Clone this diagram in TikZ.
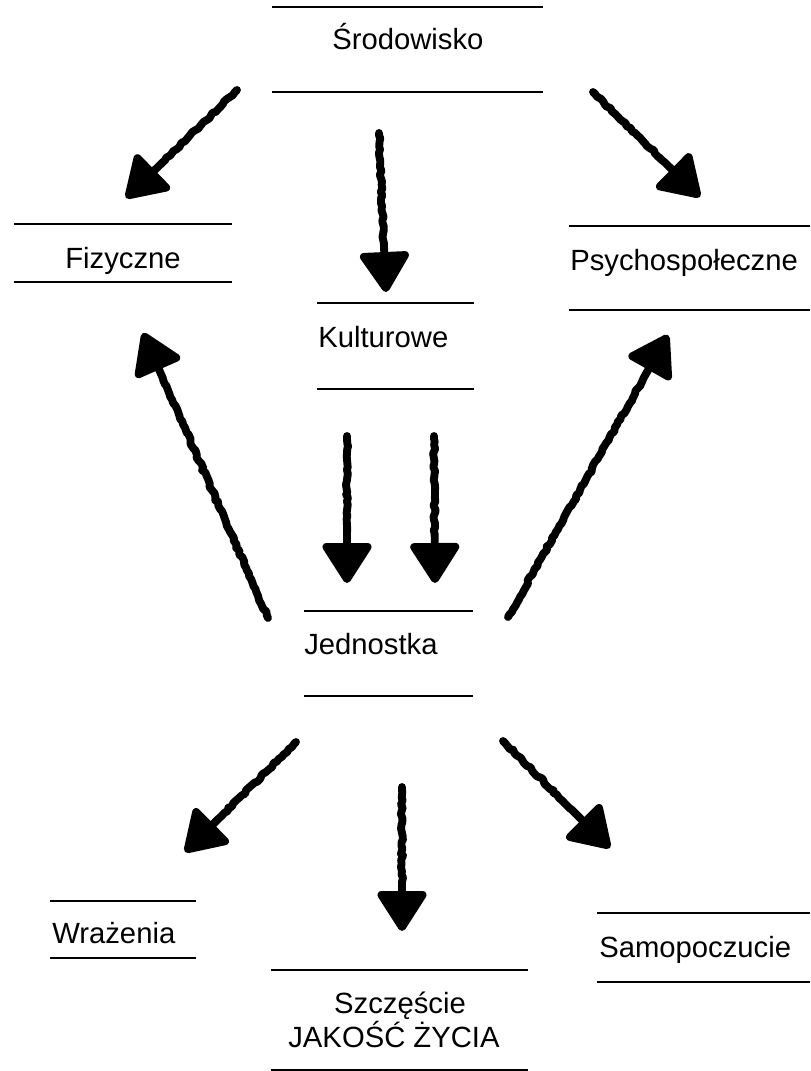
\documentclass[tikz,border=0pt]{standalone}
\usepackage{fontspec}
\setmainfont{Liberation Sans}
\usetikzlibrary{arrows.meta, decorations.pathmorphing}

\begin{document}
\begin{tikzpicture}[
  x=0.025cm, y=-0.025cm,
  lbl/.style={inner sep=0pt, font=\fontsize{20.8pt}{24pt}\selectfont},
  rule/.style={line width=2.1pt},
  arrow/.style={line width=5.6pt, line cap=round, line join=round,
                -{Triangle[length=31pt, width=38pt, round]},
                decorate, decoration={random steps, segment length=2.5pt,
                amplitude=0.8pt, pre length=2pt, post length=35pt}}
]
\useasboundingbox (0,0) rectangle (810,1071);

% labels
\node[lbl, anchor=base west] (srod) at (332,50) {Środowisko};
\node[lbl, anchor=base west] (fiz) at (65,268) {Fizyczne};
\node[lbl, anchor=base west] (psych) at (570,270) {Psychospołeczne};
\node[lbl, anchor=base west] (kult) at (318,347) {Kulturowe};
\node[lbl, anchor=base west] (jedn) at (304,654) {Jednostka};
\node[lbl, anchor=base west] (wraz) at (52,943) {Wrażenia};
\node[lbl, anchor=base west] (samo) at (599,957) {Samopoczucie};
\node[lbl, anchor=base] (szcz) at (400,1013) {Szczęście};
\node[lbl, anchor=base] (jakosc) at (394,1047) {JAKOŚĆ ŻYCIA};

% rules above and below each label
\foreach \xa/\xb/\ya/\yb in {272/543/7/92, 14/232/224/282, 569/810/226/310,
    317/474/303/389, 304/473/611/696, 50/196/901/958, 597/810/913/982,
    271/528/970/1070}
  \draw[rule] (\xa,\ya) -- (\xb,\ya) (\xa,\yb) -- (\xb,\yb);

% arrow ends
\coordinate (s1) at (237,90);   \coordinate (e1) at (126,198);
\coordinate (s2) at (379,133);  \coordinate (e2) at (386,292);
\coordinate (s3) at (593,92);   \coordinate (e3) at (700,197);
\coordinate (s4) at (268,618);  \coordinate (e4) at (143,333);
\coordinate (s5) at (508,617);  \coordinate (e5) at (668,335);
\coordinate (s6) at (347,436);  \coordinate (e6) at (347,583);
\coordinate (s7) at (434,436);  \coordinate (e7) at (435,583);
\coordinate (s8) at (296,742);  \coordinate (e8) at (185,852);
\coordinate (s9) at (402,787);  \coordinate (e9) at (402,931);
\coordinate (s10) at (503,741); \coordinate (e10) at (610,848);

\foreach \a in {1,...,10}
  \draw[arrow] (s\a) -- (e\a);
\end{tikzpicture}
\end{document}
